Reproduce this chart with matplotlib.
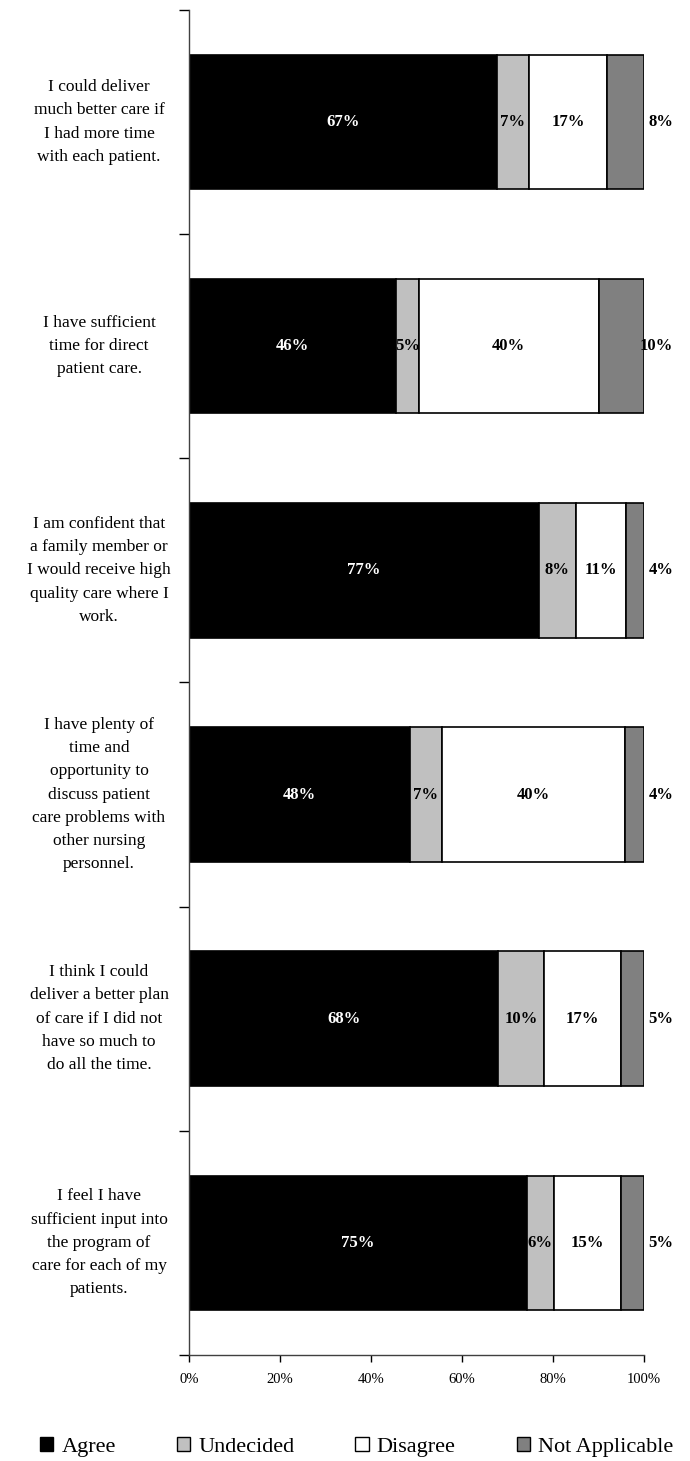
import matplotlib.pyplot as plt
import matplotlib.patches as mpatches
import numpy as np

plt.rcParams['font.family'] = ['Liberation Serif', 'DejaVu Serif']

statements = [
    "I could deliver\nmuch better care if\nI had more time\nwith each patient.",
    "I have sufficient\ntime for direct\npatient care.",
    "I am confident that\na family member or\nI would receive high\nquality care where I\nwork.",
    "I have plenty of\ntime and\nopportunity to\ndiscuss patient\ncare problems with\nother nursing\npersonnel.",
    "I think I could\ndeliver a better plan\nof care if I did not\nhave so much to\ndo all the time.",
    "I feel I have\nsufficient input into\nthe program of\ncare for each of my\npatients.",
]
series = ['Agree', 'Undecided', 'Disagree', 'Not Applicable']
agree = [67, 46, 77, 48, 68, 75]
undecided = [7, 5, 8, 7, 10, 6]
disagree = [17, 40, 11, 40, 17, 15]
not_applicable = [8, 10, 4, 4, 5, 5]
x_ticks = [0, 20, 40, 60, 80, 100]

colors = ['#000000', '#C0C0C0', '#FFFFFF', '#808080']
text_colors = ['white', 'black', 'black', 'black']

data = np.array([agree, undecided, disagree, not_applicable], dtype=float)
share = data / data.sum(axis=0) * 100  # 100% stacked, like the spreadsheet

fig = plt.figure(figsize=(6.9, 14.61), dpi=100)
ax = fig.add_axes([0.274, 0.0726, 0.659, 0.9206])

y = np.arange(len(statements))
left = np.zeros(len(statements))
for i, name in enumerate(series):
    ax.barh(y, share[i], left=left, height=0.6, color=colors[i],
            edgecolor='black', linewidth=1.2, label=name)
    for j in range(len(statements)):
        val = int(data[i, j])
        if i == 3:
            # last segment labels sit just past the end of the bar
            ax.text(106.5, y[j], f'{val}%', ha='right', va='center',
                    fontsize=12, fontweight='bold', color='black', clip_on=False)
        else:
            ax.text(left[j] + share[i, j] / 2, y[j], f'{val}%', ha='center', va='center',
                    fontsize=12, fontweight='bold', color=text_colors[i])
    left += share[i]

ax.set_xlim(0, 100)
ax.set_ylim(len(statements) - 0.5, -0.5)
ax.set_xticks(x_ticks)
ax.set_xticklabels([f'{t}%' for t in x_ticks], fontsize=10.5)
ax.tick_params(axis='x', length=5, width=1, pad=8)

ax.set_yticks(y)
ax.set_yticklabels([])
ax.tick_params(axis='y', which='major', length=0)
ax.set_yticks(np.arange(len(statements) + 1) - 0.5, minor=True)
ax.tick_params(axis='y', which='minor', length=7, width=1)

for j, s in enumerate(statements):
    ax.text(-19.8, y[j], s, ha='center', va='center', fontsize=12.5,
            linespacing=1.6, transform=ax.transData)

for side in ['top', 'right']:
    ax.spines[side].set_visible(False)
for side in ['left', 'bottom']:
    ax.spines[side].set_color('#404040')
    ax.spines[side].set_linewidth(1)

handles = [mpatches.Patch(facecolor=c, edgecolor='black', linewidth=1, label=s)
           for c, s in zip(colors, series)]
fig.legend(handles=handles, loc='center', bbox_to_anchor=(0.517, 0.0095), ncol=4,
           frameon=False, fontsize=16, handlelength=0.6, handleheight=0.6,
           handletextpad=0.36, columnspacing=2.75)

fig.savefig('out.png', dpi=100)
